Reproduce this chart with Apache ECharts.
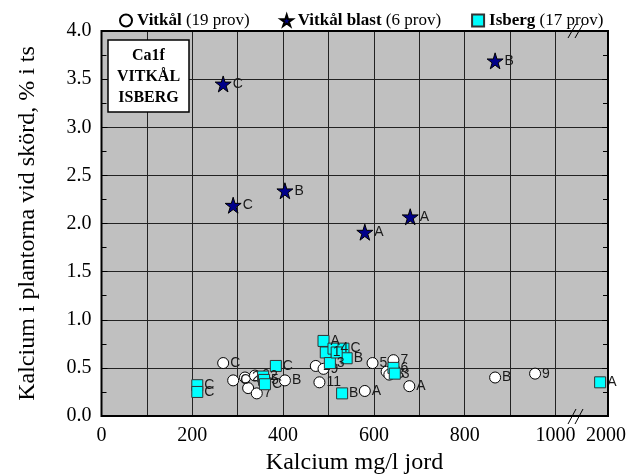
<!DOCTYPE html>
<html>
<head>
<meta charset="utf-8">
<script src="https://cdn.jsdelivr.net/npm/echarts@6/dist/echarts.min.js"></script>
<style>html,body{margin:0;padding:0;background:#fff}#chart{width:640px;height:475px}</style>
</head>
<body>
<div id="chart"></div>
<script>
// Vitkål (white circles)
var vitkalX = [268, 290, 316, 338, 323, 342, 404, 472, 489, 480, 580, 597, 643, 628, 634, 678, 867, 955, 360];
var vitkalY = [0.55, 0.37, 0.40, 0.42, 0.29, 0.235, 0.37, 0.52, 0.49, 0.35, 0.26, 0.55, 0.58, 0.46, 0.43, 0.31, 0.40, 0.44, 0.38];
var vitkalLabels = ['C', 'C', '2', '6', '', '7', 'B', '1', '9', '11', 'A', '5', '7', '6', '3', 'A', 'B', '9', ''];

// Vitkål blast (stars)
var blastX = [268, 290, 404, 580, 680, 867];
var blastY = [3.45, 2.19, 2.34, 1.91, 2.07, 3.69];
var blastLabels = ['C', 'C', 'B', 'A', 'A', 'B'];

// Isberg (cyan squares)
var isbergX = [489, 494, 511, 533, 540, 503, 530, 384, 356, 358, 360, 211, 211, 643, 646, 1850, 518];
var isbergY = [0.78, 0.66, 0.70, 0.70, 0.60, 0.55, 0.235, 0.52, 0.41, 0.375, 0.33, 0.32, 0.25, 0.50, 0.44, 0.35, 0.66];
var isbergLabels = ['A', '1', '4', 'C', 'B', '3', 'B', 'C', '2', '5', 'C', 'C', 'C', '6', '3', 'A', ''];

var seriesNames = ['Vitkål', 'Vitkål blast', 'Isberg'];
var counts = [19, 6, 17];
var xTickLabels = ['0', '200', '400', '600', '800', '1000'];
var yTickLabels = ['0.0', '0.5', '1.0', '1.5', '2.0', '2.5', '3.0', '3.5', '4.0'];

var serif = 'Liberation Serif';
var sans = 'Liberation Sans';
var starPath = 'path://M50,0 L61,35 L98,35 L68,57 L79,91 L50,70 L21,91 L32,57 L2,35 L39,35 Z';

// plot frame (broken x axis: 0-1000 | 1000-2000)
var L = 101.5, R = 608, T = 31, B = 416, BRK = 555.5;
var W = 640, H = 475;

function points(xs, ys, labels, upper) {
  var out = [];
  for (var i = 0; i < xs.length; i++) {
    if ((xs[i] > 1000) === upper) out.push({ value: [xs[i], ys[i]], name: labels[i] });
  }
  return out;
}

var pointLabel = {
  show: true, position: 'right', distance: 1,
  formatter: function (p) { return p.name; },
  fontFamily: sans, fontSize: 14, color: '#1a1a1a'
};

function makeSeries(idx, xs, ys, labels, symbol, size, style, z) {
  return [false, true].map(function (upper) {
    return {
      name: seriesNames[idx], type: 'scatter',
      xAxisIndex: upper ? 1 : 0, yAxisIndex: upper ? 1 : 0,
      symbol: symbol, symbolSize: size, itemStyle: style, z: z,
      label: pointLabel, emphasis: { disabled: true },
      data: points(xs, ys, labels, upper)
    };
  });
}

var series = [].concat(
  makeSeries(0, vitkalX, vitkalY, vitkalLabels, 'circle', 11,
    { color: '#fff', borderColor: '#000', borderWidth: 1, opacity: 1 }, 2),
  makeSeries(2, isbergX, isbergY, isbergLabels, 'rect', 11,
    { color: '#00ffff', borderColor: '#333', borderWidth: 1, opacity: 1 }, 3),
  makeSeries(1, blastX, blastY, blastLabels, starPath, 16,
    { color: '#00008b', borderColor: '#000', borderWidth: 1, opacity: 1 }, 4)
);

var splitStyle = { show: true, lineStyle: { color: '#222', width: 1 } };
var yCommon = {
  type: 'value', min: 0, max: 4, interval: 0.5,
  axisLine: { show: false },
  axisTick: { show: true, inside: true, length: 6, lineStyle: { color: '#000' } },
  minorTick: { show: true, splitNumber: 2, length: 5, lineStyle: { color: '#000' } },
  splitLine: splitStyle
};

var chart = echarts.init(document.getElementById('chart'));
chart.setOption({
  backgroundColor: '#fff',
  animation: false,
  legend: {
    top: 7, left: 114, itemGap: 30, itemWidth: 12, itemHeight: 12,
    data: seriesNames,
    formatter: function (name) {
      return '{b|' + name + '} (' + counts[seriesNames.indexOf(name)] + ' prov)';
    },
    textStyle: {
      fontFamily: serif, fontSize: 17, color: '#000',
      rich: { b: { fontFamily: serif, fontSize: 17, fontWeight: 'bold', color: '#000' } }
    }
  },
  grid: [
    { left: L, right: W - BRK, top: T, bottom: H - B, show: true, backgroundColor: '#c0c0c0', borderWidth: 0,
      containLabel: false, outerBoundsMode: 'none' },
    { left: BRK, right: W - R, top: T, bottom: H - B, show: true, backgroundColor: '#c0c0c0', borderWidth: 0,
      containLabel: false, outerBoundsMode: 'none' }
  ],
  xAxis: [
    {
      gridIndex: 0, type: 'value', min: 0, max: 1000, interval: 100,
      axisLine: { show: false },
      axisTick: { show: false },
      splitLine: splitStyle,
      axisLabel: {
        fontFamily: serif, fontSize: 20, color: '#000', margin: 10,
        formatter: function (v) { return v % 200 === 0 ? xTickLabels[v / 200] : ''; }
      },
      name: 'Kalcium mg/l jord', nameLocation: 'middle', nameGap: 33,
      nameTextStyle: { fontFamily: serif, fontSize: 24, color: '#000', padding: [0, 0, 0, 52] }
    },
    {
      gridIndex: 1, type: 'value', min: 1000, max: 2000, interval: 1000,
      axisLine: { show: false }, axisTick: { show: false }, splitLine: { show: false },
      axisLabel: {
        fontFamily: serif, fontSize: 20, color: '#000', margin: 10, padding: [0, 4, 0, 0],
        formatter: function (v) { return v === 2000 ? '2000' : ''; }
      }
    }
  ],
  yAxis: [
    Object.assign({}, yCommon, {
      gridIndex: 0,
      axisLabel: {
        fontFamily: serif, fontSize: 20, color: '#000', margin: 10,
        formatter: function (v) { return yTickLabels[Math.round(v * 2)]; }
      },
      name: 'Kalcium i plantorna vid skörd, % i ts', nameLocation: 'middle', nameGap: 62,
      nameTextStyle: { fontFamily: serif, fontSize: 24, color: '#000' }
    }),
    Object.assign({}, yCommon, {
      gridIndex: 1, position: 'right', axisLabel: { show: false }
    })
  ],
  graphic: [
    { type: 'rect', z: 50, shape: { x: L, y: T, width: R - L, height: B - T },
      style: { fill: null, stroke: '#000', lineWidth: 2 } },
    { type: 'line', z: 51, shape: { x1: 568, y1: 424, x2: 576, y2: 409 }, style: { stroke: '#000', lineWidth: 1 } },
    { type: 'line', z: 51, shape: { x1: 575, y1: 424, x2: 583, y2: 409 }, style: { stroke: '#000', lineWidth: 1 } },
    { type: 'line', z: 51, shape: { x1: 568, y1: 38, x2: 576, y2: 24 }, style: { stroke: '#000', lineWidth: 1 } },
    { type: 'line', z: 51, shape: { x1: 575, y1: 38, x2: 583, y2: 24 }, style: { stroke: '#000', lineWidth: 1 } },
    { type: 'rect', z: 52, shape: { x: 108, y: 40, width: 81, height: 72 },
      style: { fill: '#fff', stroke: '#000', lineWidth: 1.5 } },
    { type: 'text', z: 53, style: {
      x: 148.5, y: 45, text: 'Ca1f\nVITKÅL\nISBERG', textAlign: 'center', textVerticalAlign: 'top',
      lineHeight: 21, font: 'bold 16px "Liberation Serif"', fill: '#000' } }
  ],
  series: series
});
</script>
</body>
</html>
